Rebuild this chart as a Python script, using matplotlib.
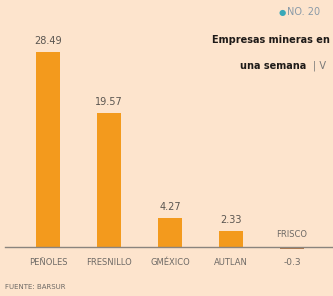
import matplotlib.pyplot as plt

empresas = ["PEÑOLES", "FRESNILLO", "GMÉXICO", "AUTLAN", "FRISCO"]
valores = [28.49, 19.57, 4.27, 2.33, -0.3]
etiquetas = ["28.49", "19.57", "4.27", "2.33", "-0.3"]

bg = "#fde4cd"
naranja = "#f39a1d"
fuente = ["DejaVu Sans Condensed", "Liberation Sans Narrow", "DejaVu Sans"]

fig = plt.figure(figsize=(3.33, 2.96), dpi=100, facecolor=bg)
ax = fig.add_axes([0, 0, 1, 1])
ax.set_facecolor(bg)

x = list(range(len(empresas)))
colores = [naranja] * 4 + ["#b27a4c"]
ax.bar(x, valores, width=0.39, color=colores)

# px -> datos: 61 px por categoria, ~6.85 px por punto
ax.set_xlim(-48 / 61, (333 - 48) / 61)
ax.set_ylim(-49 / 6.85, (296 - 49) / 6.85)
ax.axhline(0, xmin=5 / 333, xmax=1, color="#8a847e", lw=1)

for i, (v, t, n) in enumerate(zip(valores, etiquetas, empresas)):
    if v >= 0:
        ax.text(i, v + 0.9, t, ha="center", va="bottom", fontsize=7,
                color="#5a5550", family=fuente)
        ax.text(i, -2.3, n, ha="center", va="center", fontsize=6,
                color="#6e6a66", family=fuente)
    else:
        ax.text(i, 1.8, n, ha="center", va="center", fontsize=6,
                color="#6e6a66", family=fuente)
        ax.text(i, -2.3, t, ha="center", va="center", fontsize=6.5,
                color="#6e6a66", family=fuente)

ax.axis("off")

fig.text(5 / 333, 1 - 287 / 296, "FUENTE: BARSUR", fontsize=5,
         color="#6e6a66", va="center", family=fuente)
fig.text(279 / 333, 1 - 12 / 296, "●", fontsize=6, color="#3aa8b8",
         va="center", family=fuente)
fig.text(287 / 333, 1 - 12 / 296, "NO. 20", fontsize=7, color="#8a9aa8",
         va="center", family=fuente)
fig.text(330 / 333, 1 - 40 / 296, "Empresas mineras en", fontsize=7,
         fontweight="bold", color="#1e1a18", va="center", ha="right",
         family=fuente)
fig.text(240 / 333, 1 - 66 / 296, "una semana", fontsize=7,
         fontweight="bold", color="#1e1a18", va="center", family=fuente)
fig.text(313 / 333, 1 - 66 / 296, "| V", fontsize=7, color="#777777",
         va="center", family=fuente)

fig.savefig("out.png", dpi=100, facecolor=bg)
